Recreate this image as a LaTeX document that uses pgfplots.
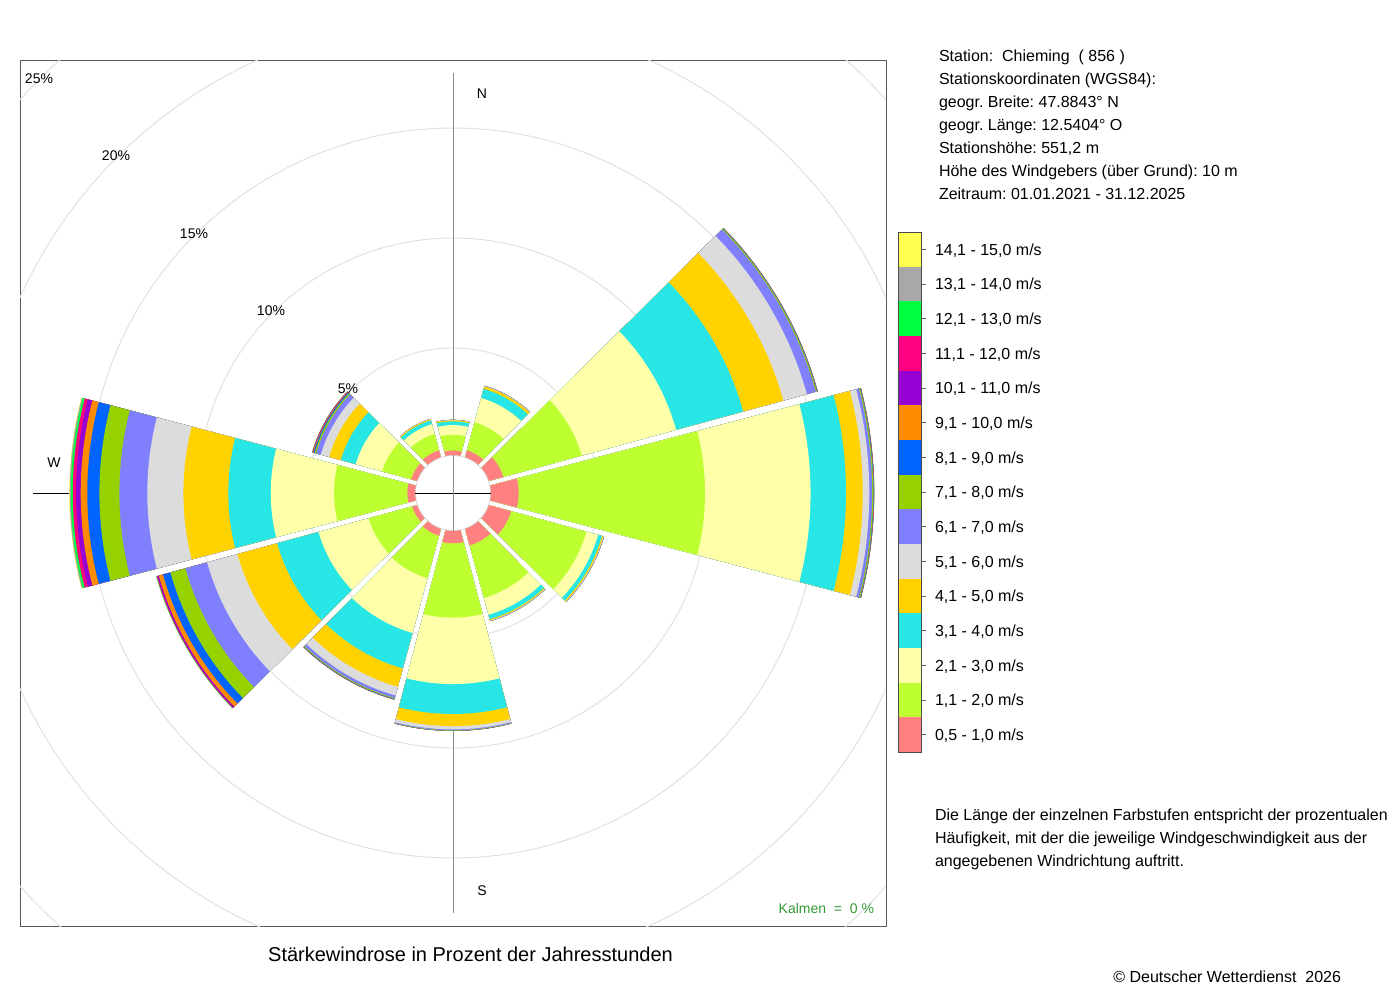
\documentclass[border=0pt]{standalone}
\usepackage{fontspec}
\setmainfont{Liberation Sans}
\usepackage{pgfplots}
\usepackage{pgfplotstable}
\pgfplotsset{compat=1.18}

\definecolor{c1}{HTML}{FF8080}
\definecolor{c2}{HTML}{BEFF32}
\definecolor{c3}{HTML}{FFFFAA}
\definecolor{c4}{HTML}{28E6E6}
\definecolor{c5}{HTML}{FFD200}
\definecolor{c6}{HTML}{DCDCDC}
\definecolor{c7}{HTML}{8080FF}
\definecolor{c8}{HTML}{96D200}
\definecolor{c9}{HTML}{0064FF}
\definecolor{c10}{HTML}{FF8C00}
\definecolor{c11}{HTML}{9600D2}
\definecolor{c12}{HTML}{FF0080}
\definecolor{c13}{HTML}{00FF40}
\definecolor{c14}{HTML}{A8A8A8}
\definecolor{c15}{HTML}{FFFF50}
\definecolor{kalm}{HTML}{339933}

% percentage of hours per direction (rows) and speed class (columns s1 = 0,5-1,0 m/s ... s15 = 14,1-15,0 m/s)
\pgfplotstableread{
dir s1   s2   s3   s4   s5   s6   s7    s8    s9    s10   s11   s12   s13   s14   s15
0   0.22 0.72 0.44 0.17 0.05 0.01 0.005 0.002 0.001 0     0     0     0     0     0
30  0.34 1.32 1.14 0.43 0.11 0.02 0.01  0.003 0.002 0.001 0     0     0     0     0
60  0.70 3.69 4.45 3.16 1.89 1.11 0.42  0.05  0.02  0.01  0.005 0.003 0.003 0.002 0.001
90  1.28 8.47 4.80 1.61 0.76 0.30 0.13  0.05  0.02  0.01  0.005 0.005 0.005 0.003 0.002
120 1.07 3.54 0.55 0.18 0.06 0.02 0.01  0.005 0.003 0.002 0     0     0     0     0
150 0.80 2.47 0.79 0.21 0.05 0.02 0.01  0.005 0.003 0     0     0     0     0     0
180 0.58 3.38 3.02 1.36 0.55 0.15 0.04  0.02  0.005 0.003 0     0     0     0     0
210 0.34 2.00 2.58 1.67 0.86 0.41 0.12  0.04  0.02  0.01  0.005 0.003 0.002 0     0
240 0.25 2.05 2.36 1.95 1.87 1.43 1.02  0.71  0.35  0.20  0.06  0.03  0.02  0.01  0.005
270 0.37 3.33 2.88 1.93 2.04 1.64 1.27  0.91  0.55  0.30  0.21  0.15  0.09  0.05  0.02
300 0.30 1.36 1.25 0.70 0.55 0.39 0.22  0.07  0.05  0.03  0.02  0.01  0.01  0.005 0.005
330 0.34 0.77 0.46 0.18 0.05 0.01 0.005 0.002 0.001 0     0     0     0     0     0
}\wind

\def\rzero{1.7045}% inner radius (axis units = percent)
\def\hgap{0.1}%     half gap between sectors
\def\dgap{0.27}%    angular widening of the gap
\def\apex{0.393}%

\newcommand{\fs}[1]{\fontsize{#1}{#1}\selectfont}
\frenchspacing

\begin{document}
\begin{tikzpicture}
\useasboundingbox (0,0) rectangle (1050pt,-750pt);
\begin{axis}[
  at={(15pt,-694.5pt)}, anchor=south west,
  width=649.5pt, height=649.5pt, scale only axis,
  xmin=-19.682, xmax=19.682, ymin=-19.682, ymax=19.682,
  ticks=none,
  axis line style={draw=black!65, line width=0.75pt},
]
\begin{scope}
\clip (rel axis cs:0,0) rectangle (rel axis cs:1,1);
% grid circles
\draw[black!12, line width=0.75pt] (axis cs:0,0) circle[radius=6.59];
\draw[black!12, line width=0.75pt] (axis cs:0,0) circle[radius=11.59];
\draw[black!12, line width=0.75pt] (axis cs:0,0) circle[radius=16.59];
\draw[black!12, line width=0.75pt] (axis cs:0,0) circle[radius=21.59];
\draw[black!12, line width=0.75pt] (axis cs:0,0) circle[radius=26.59];
\end{scope}
% axis lines
\draw[black!45, line width=0.75pt] (axis cs:0,19.11) -- (axis cs:0,-19.07);
\draw[black, line width=0.75pt] (axis cs:-19.09,0) -- (axis cs:0,0);
% sectors
\foreach \i in {0,...,11}{%
  \pgfplotstablegetelem{\i}{dir}\of\wind
  \pgfmathsetmacro\thA{90-\pgfplotsretval}%
  \gdef\cum{0}%
  \foreach \k in {1,...,15}{%
    \edef\tmp{\noexpand\pgfplotstablegetelem{\i}{s\k}\noexpand\of\noexpand\wind}\tmp
    \pgfmathsetmacro\cval{\cum+\pgfplotsretval}%
    \xdef\cum{\cval}%
    \expandafter\xdef\csname cum\k\endcsname{\cval}%
  }%
  \foreach \m in {0,...,14}{%
    \pgfmathtruncatemacro\k{15-\m}%
    \edef\cumk{\csname cum\k\endcsname}%
    \pgfmathsetmacro\R{\rzero+\cumk}%
    \pgfmathsetmacro\off{asin(\hgap/\R)+\dgap}%
    \pgfmathsetmacro\aone{\thA-15+\off}%
    \pgfmathsetmacro\atwo{\thA+15-\off}%
    \gdef\coords{}%
    \foreach \j in {0,...,16}{%
      \pgfmathsetmacro\ang{\aone+(\atwo-\aone)*\j/16}%
      \pgfmathsetmacro\ptx{\R*cos(\ang)}%
      \pgfmathsetmacro\pty{\R*sin(\ang)}%
      \xdef\coords{\coords (\ptx,\pty)}%
    }%
    \pgfmathsetmacro\ptx{\apex*cos(\thA)}%
    \pgfmathsetmacro\pty{\apex*sin(\thA)}%
    \xdef\coords{\coords (\ptx,\pty)}%
    \edef\tmp{\noexpand\addplot[draw=none, fill=c\k, forget plot] coordinates {\coords} -- cycle;}%
    \tmp
  }%
}
% inner circle
\fill[white] (axis cs:0,0) circle[radius=1.7045];
\draw[black!18, line width=0.5pt] (axis cs:0,0) circle[radius=1.7045];
\draw[black, line width=0.75pt] (axis cs:-1.705,0) -- (axis cs:1.705,0);
\draw[black!45, line width=0.75pt] (axis cs:0,-1.705) -- (axis cs:0,1.705);
\end{axis}

\begin{scope}[x=0.75pt, y=-0.75pt, every node/.style={inner sep=0pt, outer sep=0pt}]
% ring labels
\node[font=\fs{10.5pt}] at (348,389) {5\%};
\node[font=\fs{10.5pt}] at (271,311) {10\%};
\node[font=\fs{10.5pt}] at (194,234) {15\%};
\node[font=\fs{10.5pt}] at (116,156) {20\%};
\node[font=\fs{10.5pt}] at (39,79) {25\%};
% direction labels
\node[font=\fs{10.5pt}] at (482,94) {N};
\node[font=\fs{10.5pt}] at (482,891) {S};
\node[font=\fs{10.5pt}] at (54,463) {W};
% calms
\node[font=\fs{10.5pt}, text=kalm, anchor=base east] at (874,913) {Kalmen\ \ =\ \ 0 \%};
% title
\node[font=\fs{15pt}, anchor=base] at (470.5,961) {Stärkewindrose in Prozent der Jahresstunden};
% station info
\begin{scope}[every node/.append style={font=\fs{12pt}, anchor=base west}]
\node at (939,61.5) {Station:\ \ Chieming\ \ ( 856 )};
\node at (939,84.5) {Stationskoordinaten (WGS84):};
\node at (939,107.5) {geogr. Breite: 47.8843° N};
\node at (939,130.5) {geogr. Länge: 12.5404° O};
\node at (939,153.5) {Stationshöhe: 551,2 m};
\node at (939,176.5) {Höhe des Windgebers (über Grund): 10 m};
\node at (939,199.5) {Zeitraum: 01.01.2021 - 31.12.2025};
% legend labels
\node at (935,255.1) {14,1 - 15,0 m/s};
\node at (935,289.8) {13,1 - 14,0 m/s};
\node at (935,324.5) {12,1 - 13,0 m/s};
\node at (935,359.1) {11,1 - 12,0 m/s};
\node at (935,393.8) {10,1 - 11,0 m/s};
\node at (935,428.5) {9,1 - 10,0 m/s};
\node at (935,463.1) {8,1 - 9,0 m/s};
\node at (935,497.8) {7,1 - 8,0 m/s};
\node at (935,532.5) {6,1 - 7,0 m/s};
\node at (935,567.1) {5,1 - 6,0 m/s};
\node at (935,601.8) {4,1 - 5,0 m/s};
\node at (935,636.5) {3,1 - 4,0 m/s};
\node at (935,671.1) {2,1 - 3,0 m/s};
\node at (935,705.8) {1,1 - 2,0 m/s};
\node at (935,740.5) {0,5 - 1,0 m/s};
% explanation
\node at (935,820) {Die Länge der einzelnen Farbstufen entspricht der prozentualen};
\node at (935,843) {Häufigkeit, mit der die jeweilige Windgeschwindigkeit aus der};
\node at (935,866) {angegebenen Windrichtung auftritt.};
\end{scope}
% legend boxes
\foreach \i in {0,...,14}{%
  \pgfmathtruncatemacro\k{15-\i}%
  \fill[c\k] (898,232+34.6667*\i) rectangle (921,232+34.6667*\i+34.6667);
  \draw[black!60, line width=0.75pt] (921,249.33+34.6667*\i) -- (926,249.33+34.6667*\i);
}
\draw[black!70, line width=0.75pt] (898,232) rectangle (921,752);
% copyright
\node[font=\fs{12pt}, anchor=base east] at (1341,982) {© Deutscher Wetterdienst\ \ 2026};
\end{scope}
\end{tikzpicture}
\end{document}
